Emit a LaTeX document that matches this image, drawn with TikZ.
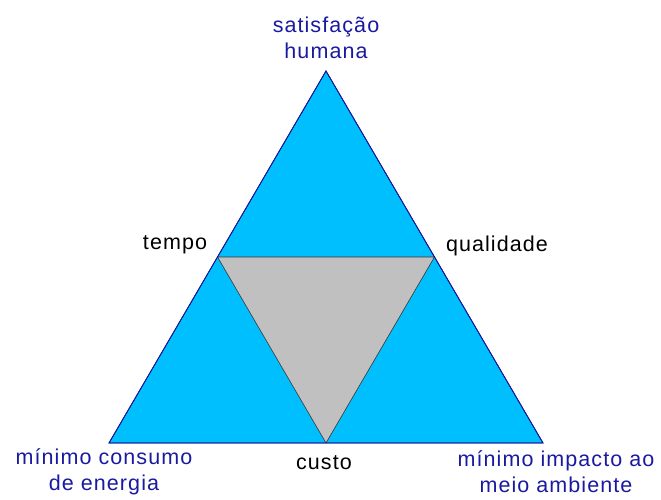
\documentclass[tikz,border=0pt]{standalone}
\usepackage{fontspec}
\setmainfont{Liberation Sans}
\usetikzlibrary{positioning,calc}
\definecolor{skyfill}{RGB}{0,191,255}
\definecolor{edgeblue}{RGB}{20,20,150}
\definecolor{labelblue}{RGB}{26,26,160}
\definecolor{midgray}{RGB}{192,192,192}

\begin{document}
\begin{tikzpicture}[
    x=1pt,y=-1pt,
    every node/.style={font=\fontsize{21.5}{26}\selectfont\addfontfeatures{LetterSpace=5},align=center,inner sep=0pt},
    corner/.style={text=labelblue},
    side/.style={text=black},
    outer/.style={fill=skyfill,draw=edgeblue,line width=0.8pt},
    inner/.style={fill=midgray,draw=black!80,line width=0.6pt}
]
\useasboundingbox (0,0) rectangle (661,499);
% corners of the big triangle
\coordinate (top) at (326,71);
\coordinate (left) at (109,443);
\coordinate (right) at (543,443);
% midpoints
\coordinate (midl) at ($(top)!0.5!(left)$);
\coordinate (midr) at ($(top)!0.5!(right)$);
\coordinate (midb) at ($(left)!0.5!(right)$);
\filldraw[outer] (top) -- (left) -- (right) -- cycle;
\filldraw[inner] (midl) -- (midr) -- (midb) -- cycle;
\draw[outer,fill=none] (top) -- (left) -- (right) -- cycle;
% labels
\node[corner] (human) at (326,38) {satisfação\\humana};
\node[corner] (energy) at (104,472) {mínimo consumo\\de energia};
\node[corner] (env) at (556,472) {mínimo impacto ao\\meio ambiente};
\node[side] (time) at (175,245) {tempo};
\node[side] (quality) at (497,246) {qualidade};
\node[side] (cost) at (324,463) {custo};
\end{tikzpicture}
\end{document}
